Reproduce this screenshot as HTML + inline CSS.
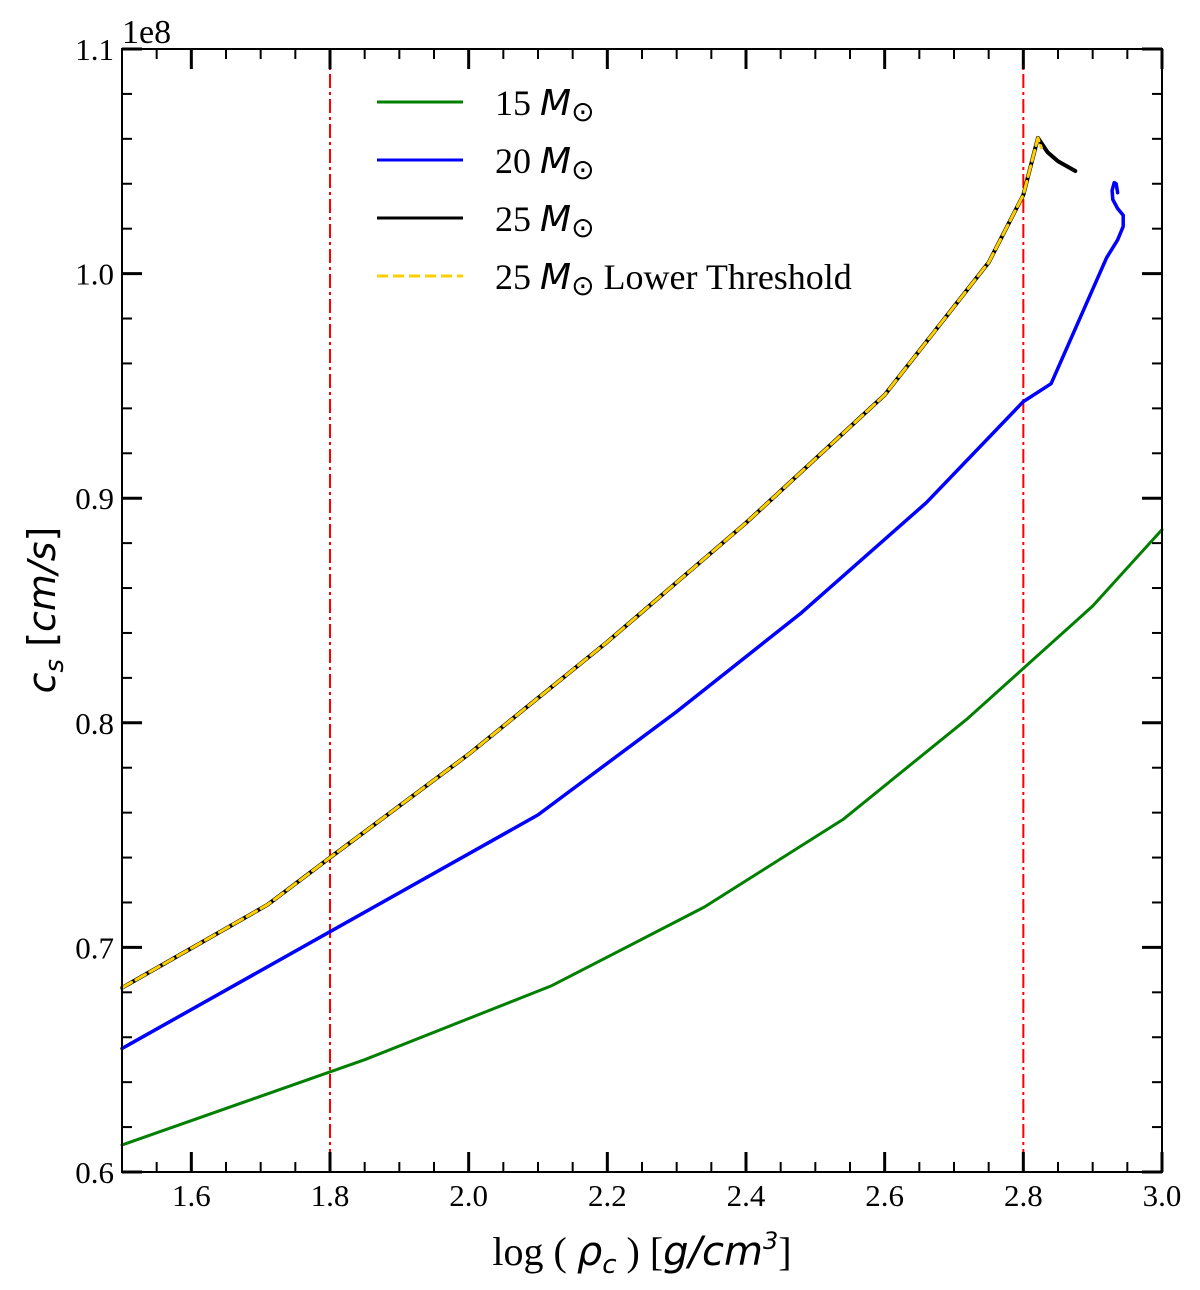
<!DOCTYPE html>
<html><head><meta charset="utf-8"><style>
html,body{margin:0;padding:0;background:#fff;}
svg{display:block;}
.tk{font-family:"Liberation Serif",serif;font-size:31px;fill:#000;}
.lg{font-family:"Liberation Serif",serif;font-size:36px;fill:#000;}
.it{font-family:"DejaVu Sans","Liberation Sans",sans-serif;font-style:italic;}
</style></head><body>
<svg id="chart" width="1200" height="1290" viewBox="0 0 1200 1290">
<g id="grid"></g>
<g id="series"></g>
<rect x="122" y="49" width="1040" height="1123" fill="none" stroke="#000" stroke-width="2"/>
<g id="ticks"></g>
<text x="122" y="43" class="tk" style="font-size:34px">1e8</text>
<g transform="translate(55,610) rotate(-90)">
<text text-anchor="middle" font-size="38" class="it" font-family="DejaVu Sans">c<tspan font-size="26" dy="8">s</tspan><tspan dy="-8" font-style="normal">  [</tspan>cm/s<tspan font-style="normal">]</tspan></text>
</g>
<text x="642" y="1265" text-anchor="middle" style="font-family:'Liberation Serif',serif;font-size:40px">log ( <tspan class="it">ρ</tspan><tspan class="it" font-size="26" dy="8">c</tspan><tspan dy="-8"> ) [</tspan><tspan class="it">g/cm</tspan><tspan class="it" font-size="24" dy="-16">3</tspan><tspan dy="16">]</tspan></text>
<g id="legend">
<line x1="377" y1="102" x2="463" y2="102" stroke="#007f00" stroke-width="3"/>
<text x="495" y="115" class="lg">15 <tspan class="it">M</tspan><tspan font-size="28" dy="6">⊙</tspan></text>
<line x1="377" y1="160" x2="463" y2="160" stroke="#0000ff" stroke-width="3"/>
<text x="495" y="173" class="lg">20 <tspan class="it">M</tspan><tspan font-size="28" dy="6">⊙</tspan></text>
<line x1="377" y1="218" x2="463" y2="218" stroke="#000" stroke-width="3"/>
<text x="495" y="231" class="lg">25 <tspan class="it">M</tspan><tspan font-size="28" dy="6">⊙</tspan></text>
<line x1="377" y1="276" x2="463" y2="276" stroke="#ffd000" stroke-width="3" stroke-dasharray="11,5"/>
<text x="495" y="289" class="lg">25 <tspan class="it">M</tspan><tspan font-size="28" dy="6">⊙</tspan><tspan dy="-6"> Lower Threshold</tspan></text>
</g>
</svg>
<script>
const xTicks=[1.6,1.8,2.0,2.2,2.4,2.6,2.8,3.0];
const xTickLabels=["1.6","1.8","2.0","2.2","2.4","2.6","2.8","3.0"];
const yTicks=[0.6,0.7,0.8,0.9,1.0,1.1];
const yTickLabels=["0.6","0.7","0.8","0.9","1.0","1.1"];
const vLines=[1.8,2.8];
const x15=[1.5,1.85,2.12,2.34,2.54,2.72,2.9,3.0];
const y15=[0.612,0.650,0.683,0.718,0.757,0.802,0.852,0.886];
const x20=[1.5,1.8,2.1,2.3,2.48,2.66,2.8,2.84,2.92,2.936,2.944,2.944,2.936,2.929,2.928,2.931,2.934,2.936];
const y20=[0.655,0.707,0.759,0.805,0.849,0.898,0.943,0.951,1.007,1.015,1.021,1.026,1.029,1.033,1.037,1.0405,1.040,1.036];
const x25=[1.5,1.71,1.8,2.0,2.2,2.4,2.6,2.75,2.8,2.821,2.835,2.85,2.875];
const y25=[0.682,0.719,0.740,0.786,0.836,0.889,0.946,1.005,1.035,1.0604,1.054,1.050,1.0457];
const x25L=[1.5,1.71,1.8,2.0,2.2,2.4,2.6,2.75,2.8,2.821,2.826];
const y25L=[0.682,0.719,0.740,0.786,0.836,0.889,0.946,1.005,1.035,1.0604,1.056];
const X0=122,X1=1162,Y0=1172,Y1=49;
const sx=v=>X0+(v-1.5)/(3.0-1.5)*(X1-X0);
const sy=v=>Y0-(v-0.6)/(1.1-0.6)*(Y0-Y1);
const NS="http://www.w3.org/2000/svg";
function mk(t,a,p){const e=document.createElementNS(NS,t);for(const k in a)e.setAttribute(k,a[k]);p.appendChild(e);return e;}
const ticks=document.getElementById('ticks'),series=document.getElementById('series');
for(let i=0;i<=30;i++){const v=1.5+i*0.05;const x=sx(v);
const L=(i%4===2)?20:10;
const a=mk('line',{x1:x,y1:Y0,x2:x,y2:Y0-L,stroke:'#000','stroke-width':L>10?3:2},ticks);

const b=mk('line',{x1:x,y1:Y1,x2:x,y2:Y1+L,stroke:'#000','stroke-width':L>10?3:2},ticks);
}
for(let i=0;i<=25;i++){const y=sy(0.6+i*0.02);const L=(i%5===0)?20:10;
const a=mk('line',{x1:X0,y1:y,x2:X0+L,y2:y,stroke:'#000','stroke-width':L>10?3:2},ticks);

const b=mk('line',{x1:X1,y1:y,x2:X1-L,y2:y,stroke:'#000','stroke-width':L>10?3:2},ticks);
}
xTicks.forEach((v,i)=>{const t=mk('text',{x:sx(v),y:1206,'text-anchor':'middle',class:'tk'},ticks);t.textContent=xTickLabels[i];
});
yTicks.forEach((v,i)=>{const t=mk('text',{x:114,y:sy(v)+11,'text-anchor':'end',class:'tk'},ticks);t.textContent=yTickLabels[i];
});
vLines.forEach(v=>{const l=mk('line',{x1:sx(v),y1:Y1,x2:sx(v),y2:Y0,stroke:'#ff0000','stroke-width':2,'stroke-dasharray':'14,4,3,4'},series);
});
function path(xs,ys,attrs,name){const d=xs.map((x,i)=>(i?'L':'M')+sx(x).toFixed(1)+','+sy(ys[i]).toFixed(1)).join(' ');
const p=mk('path',Object.assign({d:d,fill:'none','stroke-linejoin':'round','stroke-linecap':'round'},attrs),series);
}
path(x15,y15,{stroke:'#007f00','stroke-width':3},'series-15msun');
path(x20,y20,{stroke:'#0000ff','stroke-width':3.5},'series-20msun');
path(x25,y25,{stroke:'#000','stroke-width':4},'series-25msun');
path(x25L,y25L,{stroke:'#ffd000','stroke-width':3,'stroke-dasharray':'11,5'},'series-25msun-lower-threshold');
</script>
</body></html>
